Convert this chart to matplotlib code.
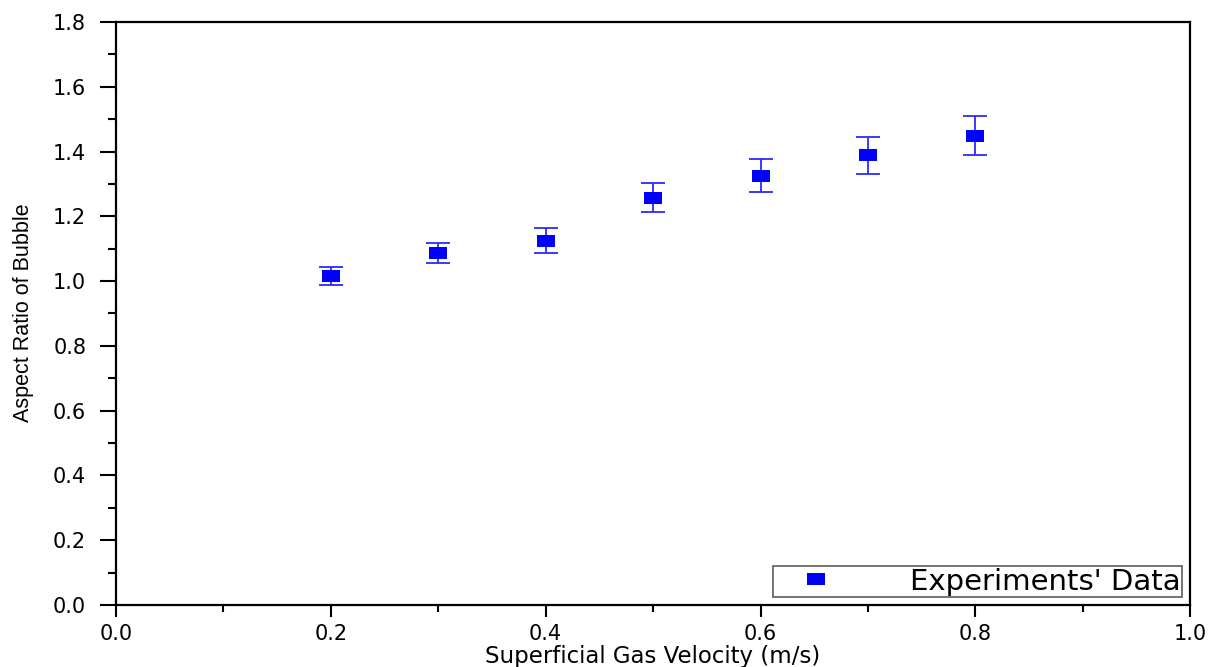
import numpy as np
import matplotlib
matplotlib.use('Agg')
import matplotlib.pyplot as plt
from matplotlib.ticker import MultipleLocator, FormatStrFormatter

velocity = [0.2, 0.3, 0.4, 0.5, 0.6, 0.7, 0.8]
aspect_ratio = [1.017, 1.087, 1.125, 1.258, 1.326, 1.388, 1.449]
aspect_err = [0.028, 0.030, 0.038, 0.046, 0.052, 0.058, 0.060]

plt.rcParams['font.family'] = ['DejaVu Sans']

fig = plt.figure(figsize=(12.11, 6.67), dpi=100)
ax = fig.add_axes([0.0958, 0.093, 0.887, 0.874])

# wide rectangle marker, as in the original
rect = [(-1.5, -1.0), (1.5, -1.0), (1.5, 1.0), (-1.5, 1.0), (-1.5, -1.0)]
ax.errorbar(velocity, aspect_ratio, yerr=aspect_err, fmt='none',
            ecolor='#2a2aff', elinewidth=1.3, capsize=8.5, capthick=1.3, zorder=2)
ax.plot(velocity, aspect_ratio, linestyle='none', marker=rect, markersize=13,
        color='#0000ff', markeredgewidth=0, label="Experiments' Data", zorder=3)

ax.set_xlim(0.0, 1.0)
ax.set_ylim(0.0, 1.8)
ax.xaxis.set_major_locator(MultipleLocator(0.2))
ax.xaxis.set_minor_locator(MultipleLocator(0.1))
ax.yaxis.set_major_locator(MultipleLocator(0.2))
ax.yaxis.set_minor_locator(MultipleLocator(0.1))
ax.xaxis.set_major_formatter(FormatStrFormatter('%.1f'))
ax.yaxis.set_major_formatter(FormatStrFormatter('%.1f'))

ax.tick_params(axis='x', which='major', direction='out', length=8.6, width=1.5, labelsize=15, pad=5)
ax.tick_params(axis='x', which='minor', direction='out', length=5, width=1.5)
ax.tick_params(axis='y', which='major', direction='out', length=11.5, width=1.5, labelsize=15, pad=10)
ax.tick_params(axis='y', which='minor', direction='out', length=6, width=1.5)
ax.tick_params(top=False, right=False, which='both')
for s in ax.spines.values():
    s.set_linewidth(1.6)

ax.set_xlabel('Superficial Gas Velocity (m/s)', fontsize=16.5)
ax.xaxis.set_label_coords(0.5, -0.068)
ax.set_ylabel('Aspect Ratio of Bubble', fontsize=15.5, family='Liberation Sans')
ax.yaxis.set_label_coords(-0.076, 0.502)

leg = ax.legend(loc='lower right', fontsize=21, frameon=True, fancybox=False,
                edgecolor='#333333', borderpad=0.05, handletextpad=1.8,
                handlelength=2.84, borderaxespad=0.27)
leg.get_frame().set_linewidth(1.2)

fig.savefig('out.png', dpi=100)
